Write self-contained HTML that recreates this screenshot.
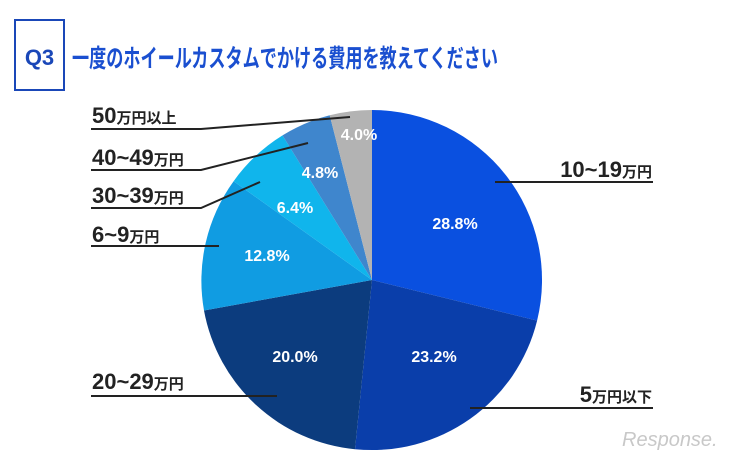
<!DOCTYPE html>
<html><head><meta charset="utf-8"><style>
html,body{margin:0;padding:0;background:#fff;}
svg{display:block;font-family:"Liberation Sans","Noto Sans CJK JP",sans-serif;}
</style></head><body>
<svg width="744" height="460" viewBox="0 0 744 460" xmlns="http://www.w3.org/2000/svg">
<rect width="744" height="460" fill="#fff"/>
<rect x="15" y="20" width="49" height="70" fill="none" stroke="#1a47b8" stroke-width="2"/>
<text x="39.5" y="65" text-anchor="middle" font-size="22" font-weight="bold" fill="#1a47b8">Q3</text>
<text x="72" y="67" font-size="25" font-weight="bold" fill="#1a4fd0" textLength="426" lengthAdjust="spacingAndGlyphs">一度のホイールカスタムでかける費用を教えてください</text>
<g stroke="none">
<path d="M372,280 L372,110 A170,170 0 0 1 537.1,320.6 Z" fill="#0a50e0"/>
<path d="M372,280 L537.1,320.6 A170,170 0 0 1 355.0,449.2 Z" fill="#0a3eaa"/>
<path d="M372,280 L355.0,449.2 A170,170 0 0 1 204.0,310.5 Z" fill="#0c3c7e"/>
<path d="M372,280 L204.0,310.5 A170,170 0 0 1 233.6,181.2 Z" fill="#109ce2"/>
<path d="M372,280 L233.6,181.2 A170,170 0 0 1 282.5,135.4 Z" fill="#10b5ec"/>
<path d="M372,280 L282.5,135.4 A170,170 0 0 1 329.7,115.3 Z" fill="#3f86cd"/>
<path d="M372,280 L329.7,115.3 A170,170 0 0 1 372,110 Z" fill="#b3b3b3"/>
</g>
<g fill="#fff" font-weight="bold" font-size="16" text-anchor="middle">
<text x="455" y="229">28.8%</text>
<text x="434" y="362">23.2%</text>
<text x="295" y="362">20.0%</text>
<text x="267" y="261">12.8%</text>
<text x="295" y="213">6.4%</text>
<text x="320" y="178">4.8%</text>
<text x="359" y="140">4.0%</text>
</g>
<g stroke="#222" stroke-width="2" fill="none">
<polyline points="91,129 201,129 350,117"/>
<polyline points="91,170 201,170 308,143"/>
<polyline points="91,208 201,208 260,182"/>
<polyline points="91,246 219,246"/>
<polyline points="91,396 277,396"/>
<polyline points="495,182 653,182"/>
<polyline points="470,408 653,408"/>
</g>
<g fill="#222" font-weight="bold">
<text x="92" y="123" font-size="22">50<tspan font-size="15">万円以上</tspan></text>
<text x="92" y="165" font-size="22">40~49<tspan font-size="15">万円</tspan></text>
<text x="92" y="203" font-size="22">30~39<tspan font-size="15">万円</tspan></text>
<text x="92" y="242" font-size="22">6~9<tspan font-size="15">万円</tspan></text>
<text x="92" y="389" font-size="22">20~29<tspan font-size="15">万円</tspan></text>
<text x="652" y="177" font-size="22" text-anchor="end">10~19<tspan font-size="15">万円</tspan></text>
<text x="652" y="402" font-size="22" text-anchor="end">5<tspan font-size="15">万円以下</tspan></text>
</g>
<text x="622" y="446" font-size="20" fill="#c8c8c8" font-style="italic">Response.</text>
</svg>
</body></html>
